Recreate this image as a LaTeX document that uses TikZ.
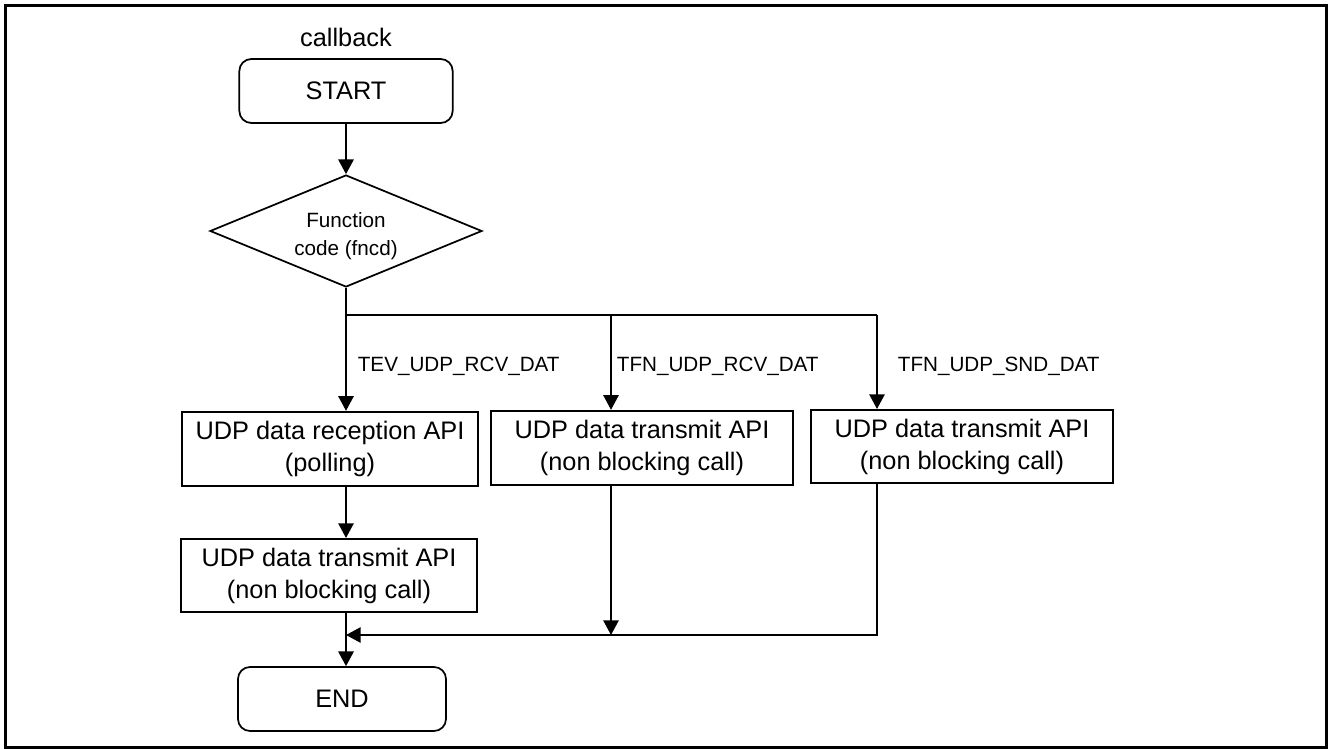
\documentclass[tikz,border=0pt]{standalone}
\usepackage{fontspec}
\setmainfont{Liberation Sans}
\usetikzlibrary{shapes.geometric,arrows.meta}
\begin{document}
\begin{tikzpicture}[x=0.75pt,y=0.75pt,yscale=-1,xscale=1,
    line width=1.3pt,
    >={Triangle[length=11pt,width=11.5pt]},
    term/.style={draw,rounded corners=9pt,minimum width=156pt,minimum height=48pt,font=\fontsize{19}{23}\selectfont},
    proc/.style={draw,align=center,minimum width=222pt,minimum height=56pt,inner sep=0pt,font=\fontsize{19}{24}\selectfont},
    decide/.style={draw,diamond,aspect=2.4,minimum width=204pt,minimum height=84pt,inner sep=0pt,align=center,font=\fontsize{15.5}{21}\selectfont},
    lbl/.style={anchor=west,inner sep=0pt,font=\fontsize{15.5}{18}\selectfont}]
        \useasboundingbox (0,0) rectangle (1328,749);
        \draw [line width=2.2pt] (5.5,5.5) rectangle (1326.5,747.5);

        % blocks
        \node [font=\fontsize{19}{23}\selectfont] (cb) at (346,37) {callback};
        \node [term,minimum width=160pt] (start) at (346,91) {START};
        \node [decide] (fc) at (346,231) {\rule{0pt}{19pt}Function\\code (fncd)};
        \node [proc] (rcv) at (330,449) {UDP data reception API\\(polling)};
        \node [proc,minimum height=55pt] (tx1) at (329,575.5) {UDP data transmit API\\(non blocking call)};
        \node [proc,minimum width=226.5pt] (tx2) at (642,448) {UDP data transmit API\\(non blocking call)};
        \node [proc,minimum width=226.5pt,minimum height=55pt] (tx3) at (962,446.5) {UDP data transmit API\\(non blocking call)};
        \node [term] (fin) at (342,699) {END};

        % branch labels
        \node [lbl] (l1) at (357,366) {TEV\_UDP\_RCV\_DAT};
        \node [lbl] (l2) at (616,366) {TFN\_UDP\_RCV\_DAT};
        \node [lbl] (l3) at (897,366) {TFN\_UDP\_SND\_DAT};

        \coordinate (sp) at (346,315);
        \coordinate (b2) at (611,315);
        \coordinate (b3) at (877,315);
        \coordinate (jn) at (346,635);

        % connectors
        \draw [->] (start) -- (fc);
        \draw (fc.south) -- (sp) -- (b3);
        \draw [->] (sp) -- (sp |- rcv.north);
        \draw [->] (b2) -- (b2 |- tx2.north);
        \draw [->] (b3) -- (b3 |- tx3.north);
        \draw [->] (sp |- rcv.south) -- (sp |- tx1.north);
        \draw [->] (sp |- tx1.south) -- (sp |- fin.north);
        \draw [->] (b2 |- tx2.south) -- (b2 |- jn);
        \draw [->] (b3 |- tx3.south) |- (jn);
\end{tikzpicture}
\end{document}
